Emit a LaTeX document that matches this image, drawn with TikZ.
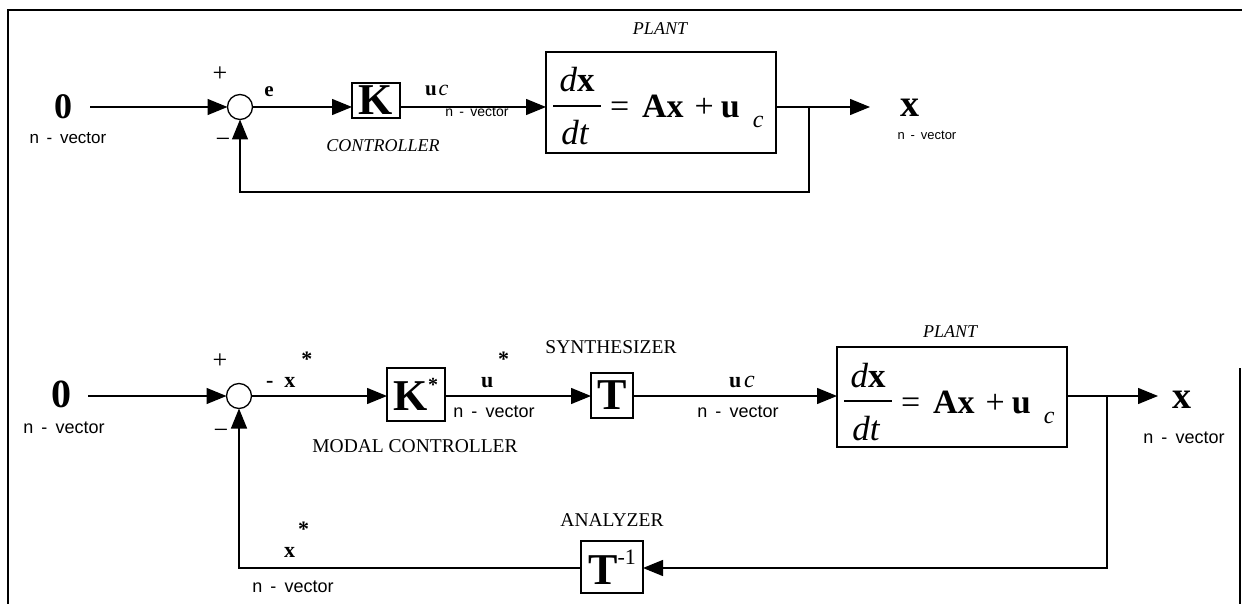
\documentclass[tikz,border=0pt]{standalone}
\usepackage{fontspec}
\setmainfont{Liberation Serif}
\newfontfamily\arialfont{Liberation Sans}
\usetikzlibrary{arrows.meta}
\newcommand\fs[1]{\fontsize{#1}{#1}\selectfont}
\newcommand\nvec{n\hspace{0.45em}-\hspace{0.45em}vector}
\newcommand\mminus{\char"2212}
\newcommand\planteq[3]{%
  \begin{scope}[shift={(#2,#3)}]
    \node[lbl,font=\fs{35}] (#1num) at (31,40) {\itshape d\upshape\bfseries x};
    \node[lbl,font=\fs{35}] (#1den) at (29,93) {\itshape dt};
    \coordinate (#1barL) at (7,54);
    \coordinate (#1barR) at (55,54);
    \draw[line width=1.6pt] (#1barL) -- (#1barR);
    \node[lbl,anchor=base west,font=\fs{34}] (#1rhs) at (64,66)
      {=\hspace{13pt}\textbf{Ax}\hspace{11pt}+\hspace{7pt}\textbf{u}\hspace{13pt}\raisebox{-10pt}{\fs{24}\itshape c}};
  \end{scope}}
\begin{document}
\begin{tikzpicture}[x=1pt,y=-1pt,line width=1.3pt,
  lbl/.style={inner sep=0pt,outer sep=0pt,anchor=base},
  nv/.style={inner sep=0pt,outer sep=0pt,anchor=base,font=\arialfont\fs{#1}},
  sumnode/.style={draw,circle,minimum size=25pt,inner sep=0pt,outer sep=0pt},
  blockbox/.style={draw,inner sep=0pt,outer sep=0pt},
  sign/.style={inner sep=0pt,font=\fs{26}},
  arr/.style={-{Triangle[length=20pt,width=16pt]}},
  capt/.style={inner sep=0pt,anchor=base,font=\fs{19.5}},
  itcapt/.style={inner sep=0pt,anchor=base,font=\itshape\fs{18}}]
\useasboundingbox (0,0) rectangle (1242,604);
% frame
\draw (8,604) -- (8,10) -- (1242,10);
\draw (1240,368) -- (1240,604);

% ---------- top diagram ----------
\node[lbl,font=\bfseries\fs{36}] (zero1) at (63,119) {0};
\node[nv=17] (nv1) at (68,144) {\nvec};
\coordinate (in1) at (90,107);
\node[sumnode] (sum1) at (240,107) {};
\node[sign] (plus1) at (220,74) {+};
\node[sign] (minus1) at (223,143) {\mminus};
\node[lbl,font=\bfseries\fs{21}] (e1) at (269,97) {e};
\node[blockbox,minimum width=48pt,minimum height=35pt,font=\bfseries\fs{44}] (K1) at (376,100.5) {K};
\node[itcapt] (ctrl1) at (383,152) {CONTROLLER};
\node[lbl,anchor=base west] (uc1) at (425,96) {\bfseries\fs{21}u\hspace{2pt}\mdseries\itshape\fs{22}c};
\node[nv=14] (nv2) at (477,117) {\nvec};
\node[blockbox,minimum width=230pt,minimum height=101pt] (P1) at (661,102.5) {};
\planteq{a}{546}{52}
\node[itcapt] (pl1) at (660,35) {PLANT};
\coordinate (out1) at (870,107);
\coordinate (br1) at (809,107);
\coordinate (fb1) at (809,192);
\node[lbl,font=\bfseries\fs{38}] (x1) at (910,117) {x};
\node[nv=13] (nv3) at (927,140) {\nvec};

\draw[arr] (in1) -- (sum1.west);
\draw[arr] (sum1.east) -- (K1.west|-sum1);
\draw[arr] (K1.east|-sum1) -- (P1.west|-sum1);
\draw[arr] (P1.east|-sum1) -- (out1);
\draw[arr] (br1) -- (fb1) -| (sum1.south);

% ---------- bottom diagram ----------
\node[lbl,font=\bfseries\fs{40}] (zero2) at (61,407) {0};
\node[nv=18] (nv4) at (64,433) {\nvec};
\coordinate (in2) at (88,396);
\node[sumnode] (sum2) at (239,396) {};
\node[sign] (plus2) at (220,361) {+};
\node[sign] (minus2) at (221,434) {\mminus};
\node[lbl,anchor=base west,font=\bfseries\fs{22}] (xs1) at (266,387) {-\hspace{11pt}x\hspace{6pt}\raisebox{21pt}{*}};
\node[blockbox,minimum width=58pt,minimum height=53pt,font=\bfseries\fs{44}] (K2) at (416,394.5) {K\raisebox{19pt}{\fs{20}*}};
\node[capt] (mc) at (415,452) {MODAL CONTROLLER};
\node[lbl,anchor=base west,font=\bfseries\fs{22}] (us) at (481,387) {u\hspace{5pt}\raisebox{21pt}{*}};
\node[nv=18] (nv5) at (494,417) {\nvec};
\node[blockbox,minimum width=42pt,minimum height=45pt,font=\bfseries\fs{44}] (T2) at (612,395.5) {T};
\node[capt] (syn) at (611,353) {SYNTHESIZER};
\node[lbl,anchor=base west] (uc2) at (729,387) {\bfseries\fs{22}u\hspace{3pt}\mdseries\itshape\fs{24}c};
\node[nv=18] (nv6) at (738,417) {\nvec};
\node[blockbox,minimum width=230pt,minimum height=100pt] (P2) at (952,397) {};
\planteq{b}{837}{347}
\node[itcapt] (pl2) at (950,337) {PLANT};
\coordinate (out2) at (1158,396);
\coordinate (br2) at (1107,396);
\coordinate (fb2) at (1107,568);
\node[lbl,font=\bfseries\fs{38}] (x2) at (1182,408) {x};
\node[nv=18] (nv7) at (1184,443) {\nvec};
\node[blockbox,minimum width=62pt,minimum height=52pt] (Ti) at (612,567) {\bfseries\fs{44}T\mdseries\raisebox{20pt}{\fs{22}-1}};
\node[capt] (ana) at (612,526) {ANALYZER};
\node[lbl,anchor=base west,font=\bfseries\fs{22}] (xs2) at (284,557) {x\hspace{3pt}\raisebox{21pt}{*}};
\node[nv=18] (nv8) at (293,592) {\nvec};

\draw[arr] (in2) -- (sum2.west);
\draw[arr] (sum2.east) -- (K2.west|-sum2);
\draw[arr] (K2.east|-sum2) -- (T2.west|-sum2);
\draw[arr] (T2.east|-sum2) -- (P2.west|-sum2);
\draw[arr] (P2.east|-sum2) -- (out2);
\draw[arr] (br2) -- (fb2) -- (Ti.east|-fb2);
\draw[arr] (Ti.west|-fb2) -| (sum2.south);
\end{tikzpicture}
\end{document}
